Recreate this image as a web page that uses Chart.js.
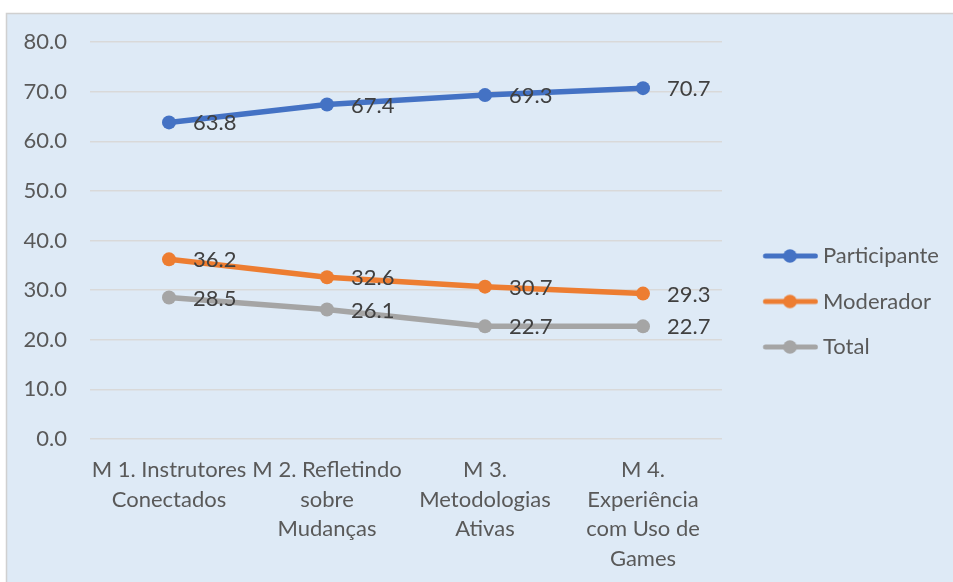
<!DOCTYPE html>
<html><head><meta charset="utf-8">
<script src="https://cdn.jsdelivr.net/npm/chart.js@4.4.0/dist/chart.umd.min.js"></script>
<style>html,body{margin:0;padding:0;background:#fff;overflow:hidden}#wrap{width:953px;height:582px;position:relative}</style>
</head><body><div id="wrap"><canvas id="c" width="953" height="582"></canvas></div>
<script>
const categories = [
  ["M 1. Instrutores", "Conectados"],
  ["M 2. Refletindo", "sobre", "Mudanças"],
  ["M 3.", "Metodologias", "Ativas"],
  ["M 4.", "Experiência", "com Uso de", "Games"]
];
const seriesNames = ["Participante", "Moderador", "Total"];
const participante = [63.8, 67.4, 69.3, 70.7];
const moderador = [36.2, 32.6, 30.7, 29.3];
const total = [28.5, 26.1, 22.7, 22.7];
const yTicks = [0, 10, 20, 30, 40, 50, 60, 70, 80];

const FONT = 'Lato';
const FS = 22;
const colors = ['#4472C4', '#ED7D31', '#A5A5A5'];

// legend geometry
const LP = 23.5;          // legend label padding
const W = 66.5;           // legend symbol box width
const mc = document.createElement('canvas').getContext('2d');
mc.font = FS + 'px ' + FONT;
const textW = Math.max(...seriesNames.map(s => mc.measureText(s).width));
const padR = Math.max(0, 120 - textW);

function legendImg(color) {
  const c = document.createElement('canvas');
  c.width = 79; c.height = 16;
  const g = c.getContext('2d');
  g.strokeStyle = color; g.lineWidth = 5; g.lineCap = 'round';
  g.beginPath(); g.moveTo(26.25, 8); g.lineTo(76.25, 8); g.stroke();
  g.fillStyle = color; g.beginPath(); g.arc(50.75, 8, 6.8, 0, Math.PI * 2); g.fill();
  return c;
}

const bgPlugin = {
  id: 'bg',
  beforeDraw(chart) {
    const ctx = chart.ctx;
    ctx.save();
    ctx.fillStyle = '#ffffff';
    ctx.fillRect(0, 0, chart.width, chart.height);
    ctx.fillStyle = '#DEEAF6';
    ctx.fillRect(6, 13, chart.width, chart.height);
    ctx.strokeStyle = '#D0D0D0';
    ctx.lineWidth = 1.5;
    ctx.beginPath();
    ctx.moveTo(6.5, chart.height); ctx.lineTo(6.5, 13.5); ctx.lineTo(chart.width, 13.5);
    ctx.stroke();
    ctx.restore();
  }
};

const valueLabels = {
  id: 'valueLabels',
  afterDatasetsDraw(chart) {
    const ctx = chart.ctx;
    ctx.save();
    ctx.font = FS + 'px ' + FONT;
    ctx.fillStyle = '#404040';
    ctx.textAlign = 'left';
    ctx.textBaseline = 'middle';
    chart.data.datasets.forEach((ds, i) => {
      chart.getDatasetMeta(i).data.forEach((pt, j) => {
        ctx.fillText(ds.data[j].toFixed(1), pt.x + 24, pt.y + 1);
      });
    });
    ctx.restore();
  }
};

const seriesData = [participante, moderador, total];

new Chart(document.getElementById('c'), {
  type: 'line',
  data: {
    labels: categories,
    datasets: seriesNames.map((n, i) => ({
      label: n,
      data: seriesData[i],
      borderColor: colors[i],
      backgroundColor: colors[i],
      borderWidth: 5.5,
      borderCapStyle: 'round',
      borderJoinStyle: 'round',
      pointRadius: 7,
      pointHoverRadius: 7,
      pointBorderWidth: 0,
      pointBackgroundColor: colors[i],
      tension: 0,
      fill: false
    }))
  },
  options: {
    responsive: false,
    animation: false,
    devicePixelRatio: 1,
    layout: { padding: { top: 21, left: 0, right: padR, bottom: 0 } },
    font: { family: FONT, size: FS },
    plugins: {
      title: { display: true, text: '', padding: { top: 4.5, bottom: 4.5 }, font: { size: 10 } },
      tooltip: { enabled: false },
      legend: {
        position: 'right',
        maxWidth: 231,
        labels: {
          usePointStyle: true,
          pointStyleWidth: W,
          padding: LP,
          color: '#595959',
          font: { family: FONT, size: FS },
          generateLabels(chart) {
            const items = Chart.defaults.plugins.legend.labels.generateLabels(chart);
            items.forEach((it, i) => { it.pointStyle = legendImg(colors[i]); it.fontColor = '#595959'; });
            return items;
          }
        }
      }
    },
    scales: {
      x: {
        offset: true,
        grid: { display: false },
        border: { display: false },
        ticks: { color: '#595959', font: { family: FONT, size: FS, lineHeight: 1.35 }, padding: 8, maxRotation: 0, autoSkip: false },
        afterFit(s) { s.height = 143; }
      },
      y: {
        min: 0, max: 80,
        grid: { color: '#D9D9D9', lineWidth: 1.5, drawTicks: false },
        border: { display: false },
        ticks: { color: '#595959', font: { family: FONT, size: FS }, padding: 23, callback: v => Number(v).toFixed(1) },
        afterBuildTicks(s) { s.ticks = yTicks.map(v => ({ value: v })); },
        afterFit(s) { s.width = 90; }
      }
    }
  },
  plugins: [bgPlugin, valueLabels]
});
</script>
</body></html>
